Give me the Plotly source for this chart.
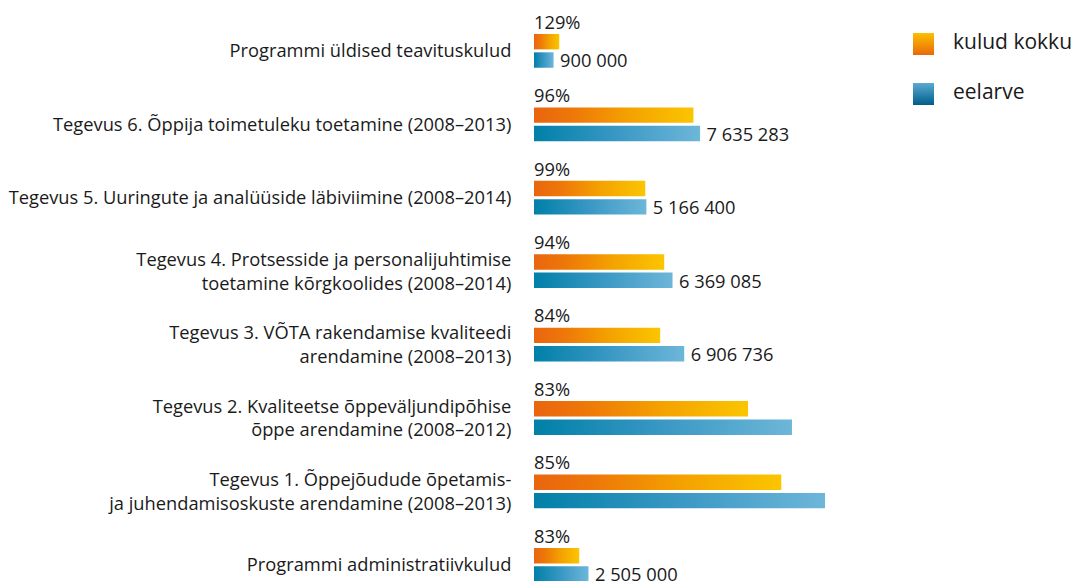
import plotly.graph_objects as go

categories = [
    "Programmi üldised teavituskulud",
    "Tegevus 6. Õppija toimetuleku toetamine (2008–2013)",
    "Tegevus 5. Uuringute ja analüüside läbiviimine (2008–2014)",
    "Tegevus 4. Protsesside ja personalijuhtimise<br>toetamine kõrgkoolides (2008–2014)",
    "Tegevus 3. VÕTA rakendamise kvaliteedi<br>arendamine (2008–2013)",
    "Tegevus 2. Kvaliteetse õppeväljundipõhise<br>õppe arendamine (2008–2012)",
    "Tegevus 1. Õppejõudude õpetamis-<br>ja juhendamisoskuste arendamine (2008–2013)",
    "Programmi administratiivkulud",
]
eelarve = [900000, 7635283, 5166400, 6369085, 6906736, 11860000, 13380000, 2505000]
kulud_kokku = [1161000, 7330000, 5115000, 5987000, 5800000, 9840000, 11370000, 2080000]
percent_labels = ["129%", "96%", "99%", "94%", "84%", "83%", "85%", "83%"]
value_labels = ["900 000", "7 635 283", "5 166 400", "6 369 085", "6 906 736", "", "", "2 505 000"]
legend_names = ["kulud kokku", "eelarve"]

FONT = "Open Sans"
FS = 18.3
TXT = "#1a1a1a"
orange_scale = [[0, "#E9650F"], [0.25, "#EE7808"], [0.6, "#F4A200"], [1, "#FBC500"]]
blue_scale = [[0, "#0080A8"], [0.5, "#3A98C4"], [1, "#6DB6D9"]]

O_TOP, O_BOT = -0.232, -0.022
B_TOP, B_BOT = 0.018, 0.228

W, H = 1072, 581
PX_PER_UNIT_X = 21.75 / 1e6
x_left, x_right = 534, 900
y_px0, y_step = 51, 73.43

fig = go.Figure()

for i in range(len(categories)):
    for val, y0, y1, scale in ((kulud_kokku[i], O_TOP, O_BOT, orange_scale),
                               (eelarve[i], B_TOP, B_BOT, blue_scale)):
        fig.add_trace(go.Scatter(
            x=[0, val, val, 0, 0],
            y=[i + y0, i + y0, i + y1, i + y1, i + y0],
            mode="lines", line=dict(width=0), fill="toself",
            fillgradient=dict(type="horizontal", colorscale=scale),
            hoverinfo="skip", showlegend=False,
        ))

fig.add_trace(go.Scatter(
    x=[0] * len(categories), y=[i - 0.365 for i in range(len(categories))],
    mode="text", text=percent_labels, textposition="middle right",
    textfont=dict(family=FONT, size=FS, color=TXT), showlegend=False, hoverinfo="skip",
    cliponaxis=False,
))
fig.add_trace(go.Scatter(
    x=[v + 6.5 / PX_PER_UNIT_X for v in eelarve], y=[i + 0.16 for i in range(len(categories))],
    mode="text", text=value_labels, textposition="middle right",
    textfont=dict(family=FONT, size=FS, color=TXT), showlegend=False, hoverinfo="skip",
    cliponaxis=False,
))

# custom legend in its own pixel-unit axes
leg_colors = [[[0, "#EA680C"], [1, "#FBC000"]], [[0, "#005E88"], [1, "#5AAAD2"]]]
leg_y = [33, 83]
for name, sc, y0 in zip(legend_names, leg_colors, leg_y):
    fig.add_trace(go.Scatter(
        x=[913, 934, 934, 913, 913], y=[y0, y0, y0 + 22, y0 + 22, y0],
        mode="lines", line=dict(width=0), fill="toself",
        fillgradient=dict(type="vertical", colorscale=sc),
        xaxis="x2", yaxis="y2", hoverinfo="skip", showlegend=False,
    ))
fig.add_trace(go.Scatter(
    x=[953, 953], y=[leg_y[0] + 11, leg_y[1] + 11], mode="text", text=legend_names,
    textposition="middle right", textfont=dict(family=FONT, size=21, color=TXT),
    xaxis="x2", yaxis="y2", hoverinfo="skip", showlegend=False, cliponaxis=False,
))

fig.update_layout(
    width=W, height=H,
    margin=dict(l=x_left, r=0, t=0, b=0),
    paper_bgcolor="white", plot_bgcolor="rgba(0,0,0,0)",
    showlegend=False,
    xaxis=dict(domain=[0, (x_right - x_left) / (W - x_left)],
               range=[0, (x_right - x_left) / PX_PER_UNIT_X],
               visible=False, fixedrange=True),
    yaxis=dict(range=[len(categories) - 1 + (H - (y_px0 + 7 * y_step)) / y_step, -y_px0 / y_step],
               tickmode="array", tickvals=list(range(len(categories))), ticktext=categories,
               showgrid=False, zeroline=False, showline=False,
               ticks="outside", ticklen=18, tickcolor="rgba(0,0,0,0)",
               tickfont=dict(family=FONT, size=FS, color=TXT), fixedrange=True),
    xaxis2=dict(domain=[(900 - x_left) / (W - x_left), 1], range=[900, 1072],
                visible=False, fixedrange=True),
    yaxis2=dict(domain=[1 - 120 / H, 1], range=[120, 0], visible=False, fixedrange=True),
)

fig.write_html("out.html", config={"displayModeBar": False},
               post_script="document.body.style.margin='0';document.body.style.overflow='hidden';")
